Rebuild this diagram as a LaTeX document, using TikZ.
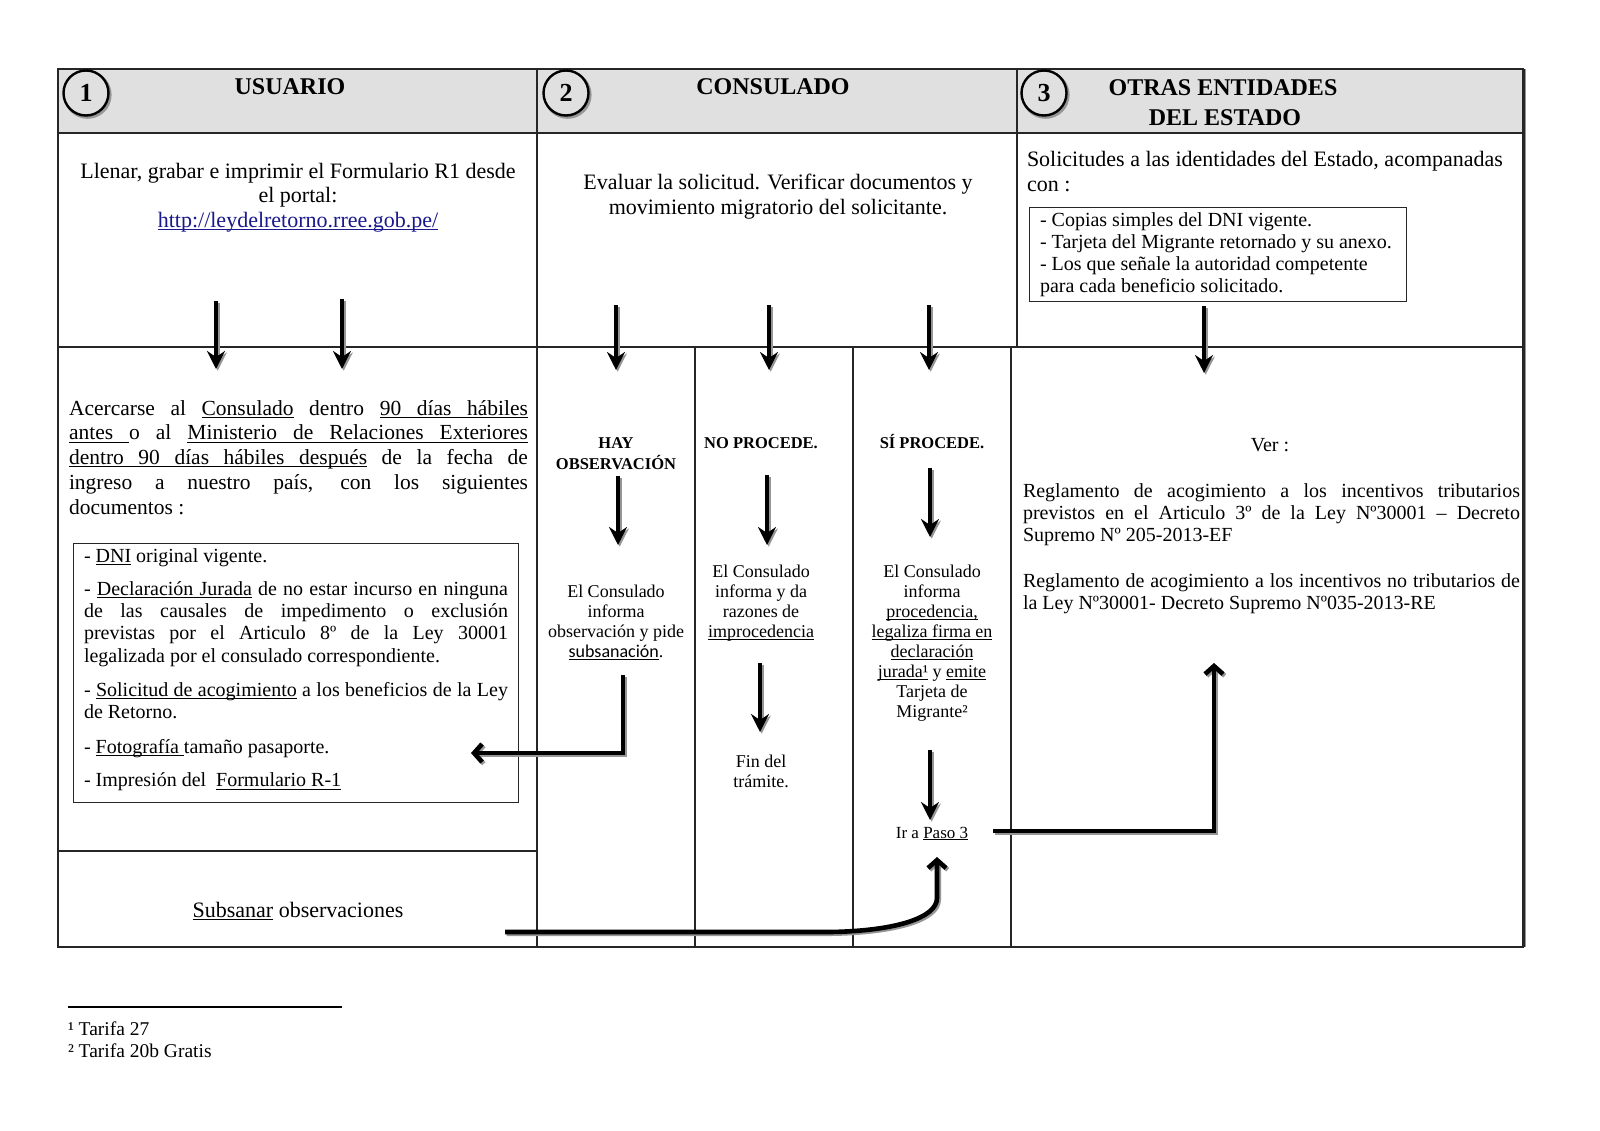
\documentclass[tikz,border=0pt]{standalone}
\usepackage{fontspec}
\setmainfont{Liberation Serif}
\newfontfamily\sansf{Carlito}
\usetikzlibrary{arrows.meta}
\definecolor{hdrgray}{RGB}{224,224,224}
\definecolor{linkblue}{RGB}{25,25,140}
\definecolor{shadegray}{RGB}{150,150,150}
\newcommand{\fsz}[2]{\fontsize{#1}{#2}\selectfont}
\newcommand{\shdraw}[2]{%
  \draw[#1, draw=shadegray, transform canvas={shift={(1.7pt,-1.7pt)}}] #2;
  \draw[#1] #2;}
\makeatletter
\def\ulword#1{\setbox0\hbox{#1}\rlap{\rule[-0.13em]{\wd0}{0.045em}}\box0\relax}
\def\ulspace{\leaders\hrule height -0.085em depth 0.13em\hskip\fontdimen2\font plus\fontdimen3\font minus\fontdimen4\font\relax}
\def\ul#1{\ul@i#1 \@nil}
\def\ul@i#1 #2\@nil{\ulword{#1}\ifx\relax#2\relax\else\ulspace\ul@i#2\@nil\fi}
\makeatother
\tolerance=10000
\hbadness=10000
\begin{document}
\begin{tikzpicture}[x=1pt,y=-1pt,
  tline/.style={line width=1.3pt, draw=black!85},
  oline/.style={line width=1.8pt, draw=black!85},
  txt/.style={inner sep=0pt, outer sep=0pt},
  vtip/.style={line width=3.6pt, -{Stealth[length=18pt,width=18pt,inset=6pt]}},
  ttip/.style={line width=4.6pt, line join=miter, -{Straight Barb[length=8pt,width=18pt]}},
  numc/.style={circle, draw=black, line width=2.4pt, fill=hdrgray, minimum size=45pt, inner sep=0pt, font=\bfseries\fsz{26}{26}},
  hdr/.style={txt, anchor=base, font=\bfseries\fsz{24}{30}},
  body/.style={txt, font=\fsz{22}{24.5}},
  smalltxt/.style={txt, font=\fsz{20}{22}},
  subtxt/.style={txt, anchor=base, align=center, font=\fsz{18}{20}},
  subh/.style={txt, anchor=base, align=center, font=\bfseries\fsz{16.5}{20.5}},
]
\useasboundingbox (0,0) rectangle (1600,1130);
\fill[white] (0,0) rectangle (1600,1130);
% table
\fill[hdrgray] (58,69) rectangle (1523,133);
\draw[tline] (58,133) -- (1523,133);
\draw[tline] (58,347) -- (1523,347);
\draw[tline] (537,69) -- (537,947);
\draw[tline] (1017,69) -- (1017,347);
\draw[tline] (695,347) -- (695,947);
\draw[tline] (853,347) -- (853,947);
\draw[tline] (1011,347) -- (1011,947);
\draw[tline] (58,851) -- (537,851);
\draw[oline] (58,69) rectangle (1523,947);
\draw[line width=1.5pt, shadegray] (1525.5,69) -- (1525.5,947);
\draw[line width=3pt, black!85] (1523,69) -- (1523,947);
% header circles
\draw[shadegray, line width=3pt] (87.6,94.8) circle (22.5);
\node[numc] (n1) at (86,93) {1};
\draw[shadegray, line width=3pt] (567.6,94.8) circle (22.5);
\node[numc] (n2) at (566,93) {2};
\draw[shadegray, line width=3pt] (1045.6,94.8) circle (22.5);
\node[numc] (n3) at (1044,93) {3};
% header titles
\node[hdr] (h1) at (290,94) {USUARIO};
\node[hdr] (h2) at (773,94) {CONSULADO};
\node[hdr] (h3) at (1223,95) {OTRAS ENTIDADES};
\node[hdr] (h3b) at (1225,125) {DEL ESTADO};
% row 1 (base anchor = last line for these nodes)
\node[body, anchor=base, align=center] (r1c1) at (298,227) {Llenar, grabar e imprimir el Formulario R1 desde\\ el portal:\\ {\color{linkblue}\ul{http://leydelretorno.rree.gob.pe/}}};
\node[body, anchor=base, align=center] (r1c2) at (778,214) {Evaluar la solicitud. Verificar documentos y\\ movimiento migratorio del solicitante.};
\node[body, anchor=base west, align=left] (r1c3) at (1027,191) {Solicitudes a las identidades del Estado, acompanadas\\ con :};
\node[draw=black!85, line width=1.1pt, anchor=north west, minimum width=377pt, minimum height=94pt, inner sep=0pt] (box3) at (1029,207) {};
\node[smalltxt, anchor=base west, align=left] (box3t) at (1040,292) {- Copias simples del DNI vigente.\\ - Tarjeta del Migrante retornado y su anexo.\\ - Los que señale la autoridad competente\\ para cada beneficio solicitado.};
% row 2, column 1
\node[txt, anchor=base west, text width=459pt, align=justify, font=\fsz{21.5}{24.8}] (p1) at (69,415) {Acercarse al \ul{Consulado} dentro \ul{90 días hábiles}\linebreak \ul{antes }o al \ul{Ministerio de Relaciones Exteriores}\linebreak \ul{dentro 90 días hábiles después} de la fecha de\linebreak ingreso a nuestro país, con los siguientes\linebreak documentos :};
\node[draw=black!85, line width=1.1pt, anchor=north west, minimum width=445pt, minimum height=259pt, inner sep=0pt] (box1) at (73,543) {};
\node[txt, anchor=base west, text width=424pt, align=justify, font=\fsz{20}{22.3}] (box1t) at (84,562) {- \ul{DNI} original vigente.\par\vspace{11pt}- \ul{Declaración Jurada} de no estar incurso en ninguna\linebreak de las causales de impedimento o exclusión\linebreak previstas por el Articulo 8º de la Ley 30001\linebreak legalizada por el consulado correspondiente.\par\vspace{11.5pt}- \ul{Solicitud de acogimiento} a los beneficios de la Ley\linebreak de Retorno.\par\vspace{12.5pt}- \ul{Fotografía }tamaño pasaporte.\par\vspace{11.5pt}- Impresión del \ \ul{Formulario R-1}};
\node[txt, anchor=base, font=\fsz{22}{24}] (subs) at (298,917) {\ul{Subsanar} observaciones};
% row 2, column 2
\node[subh] (hay) at (616,469) {HAY\\ OBSERVACIÓN};
\node[subh] (nop) at (761,448) {NO PROCEDE.};
\node[subh] (sip) at (932,448) {SÍ PROCEDE.};
\node[subtxt] (s1t) at (616,657) {El Consulado\\ informa\\ observación y pide\\ {\sansf\ul{subsanación}}.};
\node[subtxt] (s2t) at (761,637) {El Consulado\\ informa y da\\ razones de\\ \ul{improcedencia}};
\node[subtxt] (s2f) at (761,787) {Fin del\\ trámite.};
\node[subtxt] (s3t) at (932,717) {El Consulado\\ informa\\ \ul{procedencia,}\\ \ul{legaliza firma en}\\ \ul{declaración}\\ \ul{jurada¹} y \ul{emite}\\ Tarjeta de\\ Migrante²};
\node[subtxt, font=\fsz{17}{20}] (paso) at (932,838) {Ir a \ul{Paso 3}};
% row 2, column 3
\node[txt, anchor=base, font=\fsz{20}{22}] (ver) at (1270,451) {Ver :};
\node[txt, anchor=base west, text width=497pt, align=justify, font=\fsz{20}{22.2}] (reg) at (1023,497) {Reglamento de acogimiento a los incentivos tributarios\linebreak previstos en el Articulo 3º de la Ley Nº30001 – Decreto\linebreak Supremo Nº 205-2013-EF\par\vspace{24pt}Reglamento de acogimiento a los incentivos no tributarios de\linebreak la Ley Nº30001- Decreto Supremo Nº035-2013-RE};
% footnotes
\coordinate (fnl) at (68,1007);
\coordinate (fnr) at (342,1007);
\draw[line width=1.2pt] (fnl) -- (fnr);
\node[txt, anchor=base west, font=\fsz{19.5}{21}] (fn1) at (68,1035) {¹ Tarifa 27};
\node[txt, anchor=base west, font=\fsz{19.5}{21}] (fn2) at (68,1057) {² Tarifa 20b Gratis};
% vertical arrows
\coordinate (a1s) at (216,301); \coordinate (a1e) at (216,369);
\coordinate (a2s) at (342,299); \coordinate (a2e) at (342,369);
\coordinate (a3s) at (616,305); \coordinate (a3e) at (616,370);
\coordinate (a4s) at (769,305); \coordinate (a4e) at (769,370);
\coordinate (a5s) at (929,305); \coordinate (a5e) at (929,370);
\coordinate (a6s) at (1204,306); \coordinate (a6e) at (1204,373);
\coordinate (a7s) at (618,476); \coordinate (a7e) at (618,545);
\coordinate (a8s) at (767,475); \coordinate (a8e) at (767,545);
\coordinate (a9s) at (760,663); \coordinate (a9e) at (760,732);
\coordinate (a10s) at (930,468); \coordinate (a10e) at (930,537);
\coordinate (a11s) at (930,750); \coordinate (a11e) at (930,820);
\foreach \k in {1,...,11} {\shdraw{vtip}{(a\k s) -- (a\k e)}}
% thick connectors
\coordinate (l1) at (623,675); \coordinate (l2) at (623,753); \coordinate (l3) at (471,753);
\shdraw{ttip}{(l1) -- (l2) -- (l3)}
\coordinate (r1) at (993,831); \coordinate (r2) at (1214,831); \coordinate (r3) at (1214,663);
\shdraw{ttip}{(r1) -- (r2) -- (r3)}
\coordinate (c1) at (505,932); \coordinate (c2) at (830,932); \coordinate (c3) at (937,898); \coordinate (c4) at (937,857);
\shdraw{ttip}{(c1) -- (c2) .. controls (895,931) and (937,918) .. (c3) -- (c4)}
\end{tikzpicture}
\end{document}
